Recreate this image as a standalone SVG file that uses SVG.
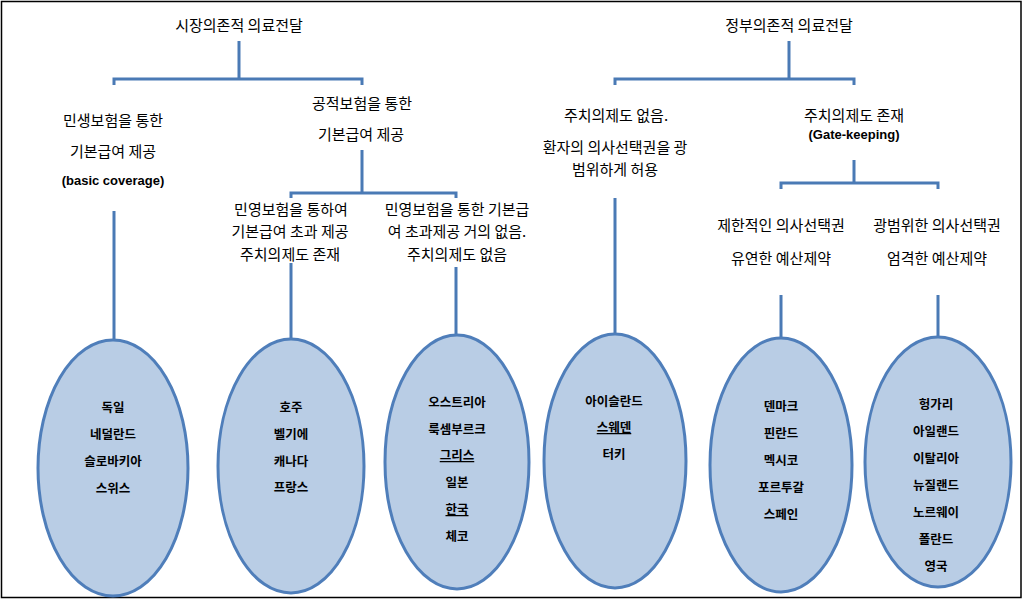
<svg xmlns="http://www.w3.org/2000/svg" width="1023" height="600" viewBox="0 0 1023 600">
<style>
.t{font-family:"Noto Sans CJK KR","Malgun Gothic","Liberation Sans",sans-serif;font-size:15px;fill:#000;text-anchor:middle}
.b{font-family:"Liberation Sans","Noto Sans CJK KR",sans-serif;font-size:13px;font-weight:bold;fill:#000;text-anchor:middle}
.c{font-family:"Noto Sans CJK KR","Malgun Gothic",sans-serif;font-size:12.5px;font-weight:bold;fill:#000;text-anchor:middle}
.u{text-decoration:underline}
.e{fill:#B9CDE5;stroke:#4F7EBA;stroke-width:3}
.l{fill:none;stroke:#4A7AB5;stroke-width:3}
</style>
<rect x="1.5" y="1.5" width="1019.5" height="596" fill="#fff" stroke="#000" stroke-width="1.5"/>
<g id="connectors">
<path class="l" d="M239 41V79M114 85V79H362V85"/>
<path class="l" d="M362 150V193M291 198V193H456V198"/>
<path class="l" d="M114 211V340M291 263V340M456 267V335"/>
<path class="l" d="M789 41V79M615 85V79H854V85"/>
<path class="l" d="M854 160V183M781 189V183H938V189"/>
<path class="l" d="M615 198V334M781 295V338M938 295V337"/>
</g>
<g id="n-market"><text class="t" x="239" y="31">시장의존적 의료전달</text></g>
<g id="n-gov"><text class="t" x="789" y="31">정부의존적 의료전달</text></g>
<g id="n-private-basic">
<text class="t" x="113" y="126">민생보험을 통한</text>
<text class="t" x="113" y="157">기본급여 제공</text>
<text class="b" x="113" y="185">(basic coverage)</text>
</g>
<g id="n-public-basic">
<text class="t" x="362" y="109">공적보험을 통한</text>
<text class="t" x="361" y="140">기본급여 제공</text>
</g>
<g id="n-private-extra">
<text class="t" x="291" y="215">민영보험을 통하여</text>
<text class="t" x="290" y="237">기본급여 초과 제공</text>
<text class="t" x="290" y="260">주치의제도 존재</text>
</g>
<g id="n-private-none">
<text class="t" x="457" y="215">민영보험을 통한 기본급</text>
<text class="t" x="457" y="237">여 초과제공 거의 없음.</text>
<text class="t" x="457" y="260">주치의제도 없음</text>
</g>
<g id="n-no-gp">
<text class="t" x="616" y="121">주치의제도 없음.</text>
<text class="t" x="615" y="153">환자의 의사선택권을 광</text>
<text class="t" x="615" y="175">범위하게 허용</text>
</g>
<g id="n-gp">
<text class="t" x="854" y="121">주치의제도 존재</text>
<text class="b" x="854" y="139">(Gate-keeping)</text>
</g>
<g id="n-limited">
<text class="t" x="781" y="231">제한적인 의사선택권</text>
<text class="t" x="781" y="264">유연한 예산제약</text>
</g>
<g id="n-broad">
<text class="t" x="937" y="231">광범위한 의사선택권</text>
<text class="t" x="937" y="264">엄격한 예산제약</text>
</g>
<g id="e1">
<ellipse class="e" cx="113" cy="468" rx="75" ry="128"/>
<text class="c" x="113" y="412">독일</text>
<text class="c" x="113" y="439">네덜란드</text>
<text class="c" x="113" y="466">슬로바키아</text>
<text class="c" x="113" y="493">스위스</text>
</g>
<g id="e2">
<ellipse class="e" cx="291" cy="466" rx="73" ry="127"/>
<text class="c" x="291" y="412">호주</text>
<text class="c" x="291" y="439">벨기에</text>
<text class="c" x="291" y="466">캐나다</text>
<text class="c" x="291" y="492">프랑스</text>
</g>
<g id="e3">
<ellipse class="e" cx="457" cy="462" rx="72" ry="127"/>
<text class="c" x="457" y="407">오스트리아</text>
<text class="c" x="457" y="434">룩셈부르크</text>
<text class="c u" x="457" y="460">그리스</text>
<text class="c" x="457" y="487">일본</text>
<text class="c u" x="457" y="514">한국</text>
<text class="c" x="457" y="541">체코</text>
</g>
<g id="e4">
<ellipse class="e" cx="615" cy="461" rx="71" ry="127"/>
<text class="c" x="614" y="406">아이슬란드</text>
<text class="c u" x="614" y="432">스웨덴</text>
<text class="c" x="614" y="459">터키</text>
</g>
<g id="e5">
<ellipse class="e" cx="781" cy="465" rx="71" ry="127"/>
<text class="c" x="781" y="411">덴마크</text>
<text class="c" x="781" y="438">핀란드</text>
<text class="c" x="781" y="465">멕시코</text>
<text class="c" x="781" y="492">포르투갈</text>
<text class="c" x="781" y="519">스페인</text>
</g>
<g id="e6">
<ellipse class="e" cx="938" cy="462" rx="73" ry="125"/>
<text class="c" x="936" y="409">헝가리</text>
<text class="c" x="936" y="436">아일랜드</text>
<text class="c" x="936" y="463">이탈리아</text>
<text class="c" x="936" y="490">뉴질랜드</text>
<text class="c" x="936" y="517">노르웨이</text>
<text class="c" x="936" y="544">폴란드</text>
<text class="c" x="936" y="571">영국</text>
</g>
</svg>
